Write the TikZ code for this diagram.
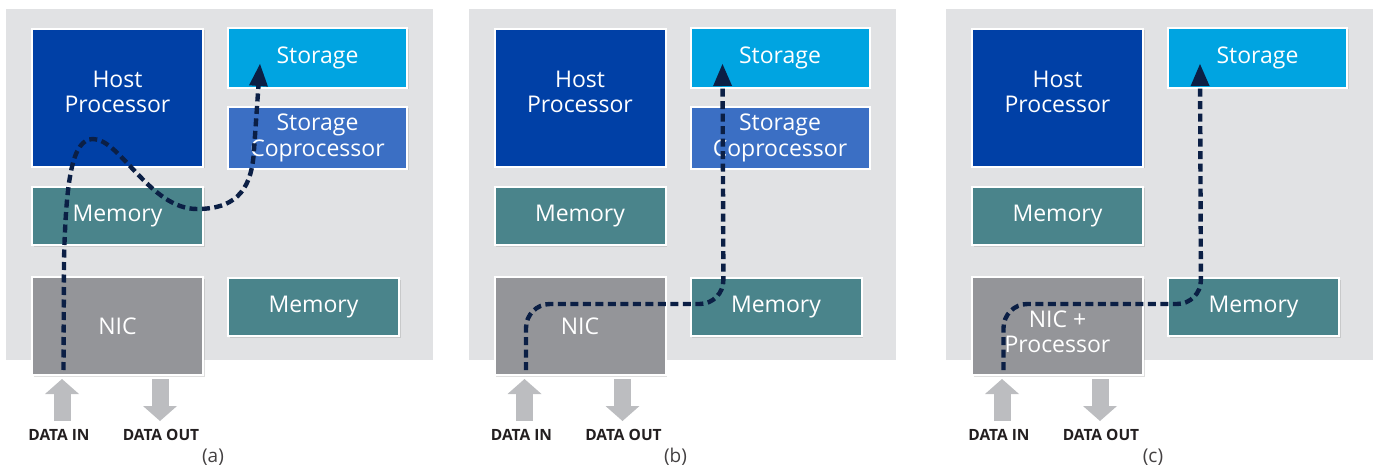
\documentclass[tikz,border=0pt]{standalone}
\usepackage{fontspec}
\setmainfont{Open Sans}
\usetikzlibrary{arrows.meta,positioning,shadows}
\definecolor{PanelGray}{HTML}{E1E2E4}
\definecolor{HostBlue}{HTML}{0040A6}
\definecolor{StoreBlue}{HTML}{00A4E1}
\definecolor{CoprocBlue}{HTML}{3B6FC4}
\definecolor{MemTeal}{HTML}{4A848B}
\definecolor{NicGray}{HTML}{949599}
\definecolor{FlowNavy}{HTML}{0B1F45}
\definecolor{IoGray}{HTML}{BCBDC0}
\definecolor{CapDark}{HTML}{231F20}

\begin{document}
\begin{tikzpicture}[x=1pt, y=-1pt,
  box/.style={draw=white, line width=2pt, text=white, align=center, inner sep=0pt,
    font=\fontsize{23}{25.5}\selectfont,
    drop shadow={shadow xshift=1.5pt, shadow yshift=-1.5pt, opacity=.25}},
  boxtxt/.style={text=white, align=center, inner sep=0pt,
    font=\fontsize{23}{25.5}\selectfont},
  flow/.style={draw=FlowNavy, line width=4.4pt, dash pattern=on 8pt off 4.5pt,
    -{Triangle[length=22pt, width=19pt, line width=0pt]}},
  io/.style={draw=IoGray, line width=17pt,
    -{Triangle[length=15pt, width=34pt, line width=0pt]}},
  iolbl/.style={text=CapDark, inner sep=0pt, font=\bfseries\fontsize{15.5}{17}\selectfont},
  tag/.style={text=CapDark!85, font=\fontsize{19}{21}\selectfont}]
  \useasboundingbox (0,0) rectangle (1374,468);

  % the three panels share the same frame
  \foreach \dx/\tg/\nictext/\nicdrop in {0/a/NIC/0, 462.5/b/NIC/0, 940/c/{NIC +\\Processor}/6}{
    \begin{scope}[xshift=\dx pt]
      \fill[PanelGray] (6,9) rectangle (433,360);
      \node[box, fill=HostBlue, minimum width=171pt, minimum height=138pt]
        (hp\tg) at (117.5,98) {};
      \node[boxtxt, yshift=6pt] (hpt\tg) at (hp\tg.center) {Host\\Processor};
      \node[box, fill=StoreBlue, minimum width=179pt, minimum height=60pt]
        (st\tg) at (317.5,58) {Storage};
      \node[box, fill=MemTeal, minimum width=171pt, minimum height=58pt]
        (mh\tg) at (117.5,216) {Memory};
      \node[box, fill=NicGray, minimum width=171pt, minimum height=98pt]
        (nic\tg) at (117.5,326) {};
      \node[boxtxt, yshift=-\nicdrop pt] (nict\tg) at (nic\tg.center) {\nictext};
      \node[box, fill=MemTeal, minimum width=171pt, minimum height=58pt]
        (ms\tg) at (313.5,307) {Memory};
      \coordinate (din\tg) at (62,421);
      \coordinate (dout\tg) at (160,421);
      \coordinate (src\tg) at (63.5,370);
      \coordinate (tip\tg) at (260,64);
      \coordinate (turn\tg) at (261,304);
      \draw[io, shorten >=3pt] (din\tg) -- (nic\tg.south -| din\tg);
      \draw[io, shorten <=3pt] (nic\tg.south -| dout\tg) -- (dout\tg);
      \node[iolbl, below=8pt of din\tg, xshift=-3pt] (lin\tg) {DATA IN};
      \node[iolbl, below=8pt of dout\tg, xshift=1pt] (lout\tg) {DATA OUT};
      \node[tag] (cap\tg) at (213,457) {(\tg)};
    \end{scope}
  }

  \node[box, fill=CoprocBlue, minimum width=179pt, minimum height=62pt,
    below=17pt of sta] (sca) {Storage\\Coprocessor};
  \node[box, fill=CoprocBlue, minimum width=179pt, minimum height=62pt,
    below=17pt of stb] (scb) {Storage\\Coprocessor};

  % data paths
  \draw[flow] (srca) -- (64,260) .. controls (66,180) and (72,139) .. (93,139)
    .. controls (120,139) and (150,209) .. (197,209)
    .. controls (240,209) and (252,185) .. (254,150) -- (tipa);
  \draw[flow, rounded corners=24pt] (srcb) |- (turnb) -- (tipb);
  \draw[flow, rounded corners=24pt] (srcc) |- (turnc) -- (tipc);
\end{tikzpicture}
\end{document}
